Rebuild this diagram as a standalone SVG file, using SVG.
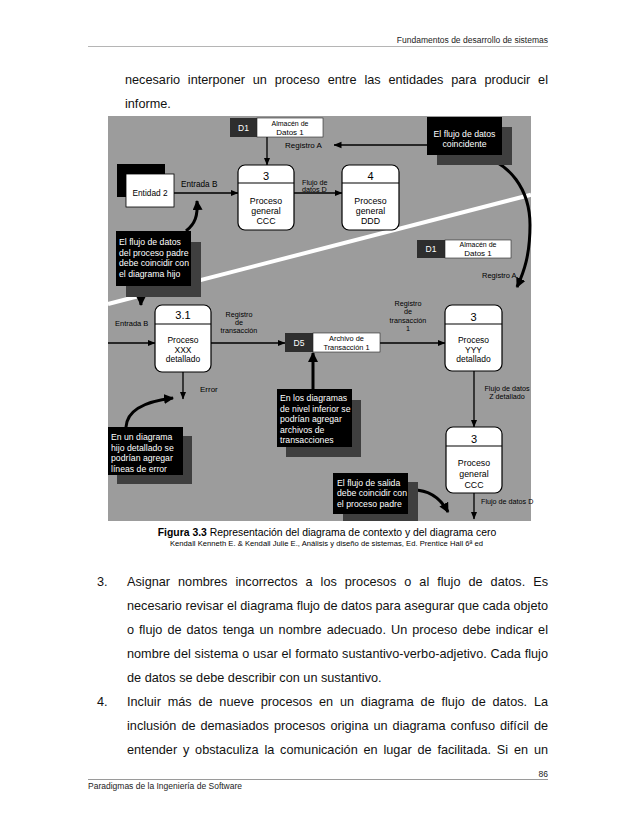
<svg xmlns="http://www.w3.org/2000/svg" width="638" height="826" viewBox="0 0 638 826">
<defs>
<marker id="a" viewBox="0 0 8 8" markerWidth="8" markerHeight="8" refX="7.5" refY="4" orient="auto" markerUnits="userSpaceOnUse"><path d="M0,0.8 L8,4 L0,7.2 Z" fill="#000"/></marker>
<marker id="ab" viewBox="0 0 10 10" markerWidth="10" markerHeight="10" refX="9" refY="5" orient="auto" markerUnits="userSpaceOnUse"><path d="M0,0 L10,5 L0,10 Z" fill="#000"/></marker>
</defs>
<style>
text{font-family:"Liberation Sans",Arial,sans-serif;fill:#000}
.body{font-size:12.7px;fill:#111}
.small{font-size:8.5px;fill:#222}
.proc{fill:#fff;stroke:#000;stroke-width:1.2}
.div{stroke:#000;stroke-width:1.2}
.ln{stroke:#000;stroke-width:1.3;fill:none;marker-end:url(#a)}
.thick{stroke:#000;stroke-width:3;fill:none;marker-end:url(#ab)}
.box{fill:#000}
.sh{fill:#3f3f3f}
.lbl{font-size:7.2px}
.pn{font-size:11px}
.pt{font-size:8.8px}
.ct{font-size:8.7px;fill:#fff}
.sd{fill:#2e2e2e}
.sw{fill:#fff;stroke:#222;stroke-width:0.6}
.st{font-size:7.4px}
</style>
<rect width="638" height="826" fill="#fff"/>

<g id="page-header">
<text class="small" x="548" y="43" text-anchor="end">Fundamentos de desarrollo de sistemas</text>
<line x1="88" y1="46.5" x2="548" y2="46.5" stroke="#b5b5b5" stroke-width="1"/>
</g>
<g id="intro-text">
<text class="body" x="125" y="83.5" textLength="423" lengthAdjust="spacing" style="word-spacing:4.26px">necesario interponer un proceso entre las entidades para producir el</text>
<text class="body" x="125" y="107.5">informe.</text>
</g>

<g id="diagram-bg">
<rect x="108" y="116" width="423" height="405" fill="#9c9c9c"/>
<line x1="108" y1="304" x2="531" y2="194.7" stroke="#fff" stroke-width="4"/>
</g>

<g id="connectors">
<line class="ln" x1="267" y1="137" x2="267" y2="165"/>
<line class="ln" x1="427" y1="145" x2="334" y2="145"/>
<line class="ln" x1="174" y1="193" x2="238" y2="193"/>
<line class="ln" x1="294" y1="193" x2="342" y2="193"/>
<line class="ln" x1="108" y1="343" x2="155" y2="343"/>
<line class="ln" x1="211" y1="343" x2="285" y2="343"/>
<line class="ln" x1="380" y1="343" x2="445" y2="343"/>
<line class="ln" x1="183" y1="372" x2="183" y2="399"/>
<line class="ln" x1="474" y1="371" x2="474" y2="427"/>
<line class="ln" x1="474" y1="493" x2="474" y2="519"/>
<path class="thick" d="M186 231 C195 224 198 216 197 201"/>
<path class="thick" d="M130 286 C137 290 141 296 141 305"/>
<path class="thick" d="M478 155 C510 162 530 190 530 225 C530 255 524 272 517 287"/>
<path class="thick" d="M126 427 C127 412 140 402 173 398"/>
<path class="thick" d="M313 389 L313 353"/>
<path class="thick" d="M410 490 C428 489 440 497 448 512"/>
<text class="lbl" x="285" y="148" style="font-size:8px">Registro A</text>
<text class="lbl" x="181" y="187" style="font-size:8.2px">Entrada B</text>
<text class="lbl" x="302" y="184.5">Flujo de</text>
<text class="lbl" x="302" y="192">datos D</text>
<text class="lbl" x="115" y="326" style="font-size:7.5px">Entrada B</text>
<text class="lbl" text-anchor="middle"><tspan x="239" y="316.5">Registro</tspan><tspan x="239" y="324.5">de</tspan><tspan x="239" y="333">transacción</tspan></text>
<text class="lbl" text-anchor="middle"><tspan x="408" y="305.5">Registro</tspan><tspan x="408" y="314">de</tspan><tspan x="408" y="322.5">transacción</tspan><tspan x="408" y="331">1</tspan></text>
<text class="lbl" x="482" y="278" style="font-size:7.5px">Registro A</text>
<text class="lbl" x="200" y="392" style="font-size:8px">Error</text>
<text class="lbl" text-anchor="middle"><tspan x="507" y="391">Flujo de datos</tspan><tspan x="507" y="399">Z detallado</tspan></text>
<text class="lbl" x="481" y="504">Flujo de datos D</text>
</g>

<g id="store-d1-top">
<rect class="sd" x="230" y="118" width="27" height="19"/>
<rect class="sw" x="257" y="118" width="66" height="19"/>
<text x="243.5" y="130.5" text-anchor="middle" style="font-size:8.5px;fill:#fff">D1</text>
<text class="st" text-anchor="middle"><tspan x="290" y="125.5" style="font-size:7px">Almacén de</tspan><tspan x="290" y="134.5" style="font-size:8px">Datos 1</tspan></text>
</g>

<g id="callout-coincidente">
<rect class="sh" x="437" y="127" width="75" height="38"/>
<rect class="box" x="427" y="117" width="75" height="38"/>
<text class="ct" text-anchor="middle"><tspan x="464.5" y="136.5">El flujo de datos</tspan><tspan x="464.5" y="147">coincidente</tspan></text>
</g>

<g id="entidad-2">
<rect fill="#000" x="117" y="164" width="48" height="33"/>
<rect fill="#fff" stroke="#000" stroke-width="0.8" x="126" y="174" width="48" height="33"/>
<text x="150" y="196" text-anchor="middle" style="font-size:8.3px">Entidad 2</text>
</g>

<g id="proceso-3-ccc-top">
<rect class="proc" x="238" y="165" width="56" height="65" rx="7"/>
<line class="div" x1="238" y1="183" x2="294" y2="183"/>
<text class="pn" x="266" y="179.5" text-anchor="middle">3</text>
<text class="pt" text-anchor="middle"><tspan x="266" y="204">Proceso</tspan><tspan x="266" y="214">general</tspan><tspan x="266" y="224">CCC</tspan></text>
</g>

<g id="proceso-4-ddd">
<rect class="proc" x="342" y="165" width="57" height="65" rx="7"/>
<line class="div" x1="342" y1="183" x2="399" y2="183"/>
<text class="pn" x="370.5" y="179.5" text-anchor="middle">4</text>
<text class="pt" text-anchor="middle"><tspan x="370.5" y="204">Proceso</tspan><tspan x="370.5" y="214">general</tspan><tspan x="370.5" y="224">DDD</tspan></text>
</g>

<g id="callout-padre-hijo">
<rect class="sh" x="126" y="242" width="75" height="55"/>
<rect class="box" x="116" y="231" width="75" height="55"/>
<text class="ct"><tspan x="119" y="245">El flujo de datos</tspan><tspan x="119" y="255.5">del proceso padre</tspan><tspan x="119" y="266">debe coincidir con</tspan><tspan x="119" y="276.5">el diagrama hijo</tspan></text>
</g>

<g id="store-d1-bottom">
<rect class="sd" x="417" y="240" width="28" height="18"/>
<rect class="sw" x="445" y="240" width="66" height="18"/>
<text x="431" y="252" text-anchor="middle" style="font-size:8.5px;fill:#fff">D1</text>
<text class="st" text-anchor="middle"><tspan x="478" y="247" style="font-size:7px">Almacén de</tspan><tspan x="478" y="256" style="font-size:8px">Datos 1</tspan></text>
</g>

<g id="proceso-3-1-xxx">
<rect class="proc" x="155" y="305" width="56" height="67" rx="7"/>
<line class="div" x1="155" y1="324" x2="211" y2="324"/>
<text class="pn" x="183" y="319" text-anchor="middle">3.1</text>
<text class="pt" text-anchor="middle" style="font-size:8.5px"><tspan x="183" y="343">Proceso</tspan><tspan x="183" y="352.5">XXX</tspan><tspan x="183" y="362">detallado</tspan></text>
</g>

<g id="store-d5">
<rect class="sd" x="285" y="333" width="28" height="19"/>
<rect class="sw" x="313" y="333" width="67" height="19"/>
<text x="299" y="346" text-anchor="middle" style="font-size:8.5px;fill:#fff">D5</text>
<text class="st" text-anchor="middle"><tspan x="346.5" y="340.5">Archivo de</tspan><tspan x="346.5" y="349.5">Transacción 1</tspan></text>
</g>

<g id="proceso-3-yyy">
<rect class="proc" x="445" y="305" width="57" height="66" rx="7"/>
<line class="div" x1="445" y1="324" x2="502" y2="324"/>
<text class="pn" x="473.5" y="320.5" text-anchor="middle">3</text>
<text class="pt" text-anchor="middle" style="font-size:8.5px"><tspan x="473.5" y="343">Proceso</tspan><tspan x="473.5" y="352.5">YYY</tspan><tspan x="473.5" y="362">detallado</tspan></text>
</g>

<g id="callout-error">
<rect class="sh" x="117" y="436" width="75" height="48"/>
<rect class="box" x="108" y="427" width="75" height="48"/>
<text class="ct"><tspan x="111" y="440">En un diagrama</tspan><tspan x="111" y="450.5">hijo detallado se</tspan><tspan x="111" y="461">podrían agregar</tspan><tspan x="111" y="471.5">líneas de error</tspan></text>
</g>

<g id="callout-archivos">
<rect class="sh" x="286" y="400" width="75" height="57"/>
<rect class="box" x="277" y="389" width="75" height="58"/>
<text class="ct"><tspan x="280" y="401">En los diagramas</tspan><tspan x="280" y="411.5">de nivel inferior se</tspan><tspan x="280" y="422">podrían agregar</tspan><tspan x="280" y="432.5">archivos de</tspan><tspan x="280" y="443">transacciones</tspan></text>
</g>

<g id="proceso-3-ccc-bottom">
<rect class="proc" x="446" y="427" width="56" height="66" rx="7"/>
<line class="div" x1="446" y1="446" x2="502" y2="446"/>
<text class="pn" x="474" y="442.5" text-anchor="middle">3</text>
<text class="pt" text-anchor="middle"><tspan x="474" y="466">Proceso</tspan><tspan x="474" y="477">general</tspan><tspan x="474" y="488">CCC</tspan></text>
</g>

<g id="callout-salida">
<rect class="sh" x="343" y="482" width="75" height="39"/>
<rect class="box" x="333" y="473" width="75" height="41"/>
<text class="ct"><tspan x="337" y="485.5">El flujo de salida</tspan><tspan x="337" y="496">debe coincidir con</tspan><tspan x="337" y="506.5">el proceso padre</tspan></text>
</g>

<g id="caption">
<text x="327" y="535.5" text-anchor="middle" style="font-size:10.4px"><tspan font-weight="bold">Figura 3.3</tspan> Representación del diagrama de contexto y del diagrama cero</text>
<text x="170" y="546" textLength="313" lengthAdjust="spacing" style="font-size:7.6px">Kendall Kenneth E. &amp; Kendall Julie E., Análisis y diseño de sistemas, Ed. Prentice Hall 6ª ed</text>
</g>

<g id="list-text">
<text class="body" x="97" y="585.5">3.</text>
<text class="body" x="127" y="585.5" textLength="421" lengthAdjust="spacing" style="word-spacing:4.46px">Asignar nombres incorrectos a los procesos o al flujo de datos. Es</text>
<text class="body" x="127" y="609.5" textLength="421" lengthAdjust="spacing">necesario revisar el diagrama flujo de datos para asegurar que cada objeto</text>
<text class="body" x="127" y="633.5" textLength="421" lengthAdjust="spacing" style="word-spacing:1.49px">o flujo de datos tenga un nombre adecuado. Un proceso debe indicar el</text>
<text class="body" x="127" y="657.5" textLength="421" lengthAdjust="spacing" style="word-spacing:0.27px">nombre del sistema o usar el formato sustantivo-verbo-adjetivo. Cada flujo</text>
<text class="body" x="127" y="681.5">de datos se debe describir con un sustantivo.</text>
<text class="body" x="97" y="705.5">4.</text>
<text class="body" x="127" y="705.5" textLength="421" lengthAdjust="spacing" style="word-spacing:3.26px">Incluir más de nueve procesos en un diagrama de flujo de datos. La</text>
<text class="body" x="127" y="729.5" textLength="421" lengthAdjust="spacing" style="word-spacing:1.45px">inclusión de demasiados procesos origina un diagrama confuso difícil de</text>
<text class="body" x="127" y="753.5" textLength="421" lengthAdjust="spacing" style="word-spacing:2.27px">entender y obstaculiza la comunicación en lugar de facilitada. Si en un</text>
</g>

<g id="page-footer">
<text class="small" x="548" y="777" text-anchor="end">86</text>
<line x1="88" y1="779.5" x2="548" y2="779.5" stroke="#9a9a9a" stroke-width="1"/>
<text class="small" x="88" y="789">Paradigmas de la Ingeniería de Software</text>
</g>
</svg>
